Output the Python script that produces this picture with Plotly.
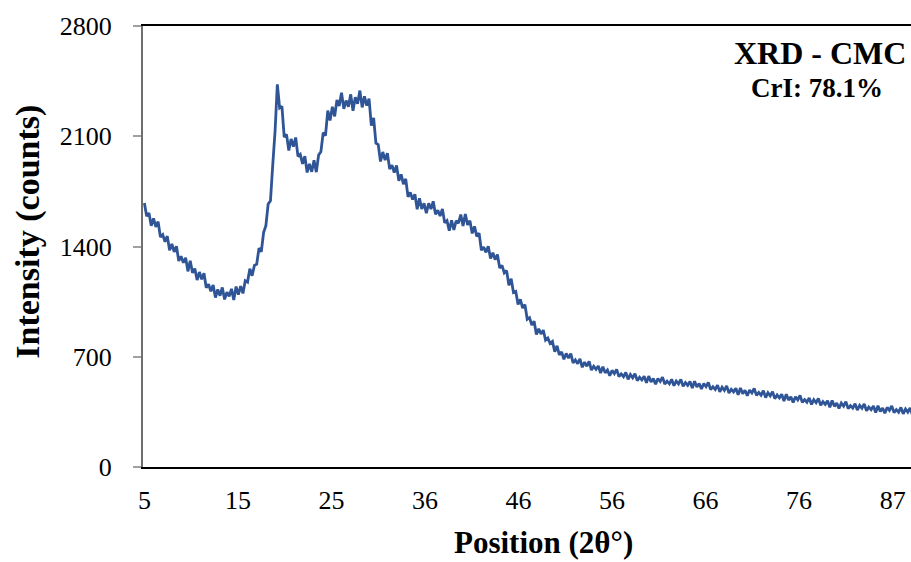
import numpy as np
import plotly.graph_objects as go

# Scan grid (2-theta, degrees): start and step of the diffractometer scan
scan_start = 5.0
scan_step = 0.25

# Intensity (counts), one value per scan step
intensity = [
    1676, 1592, 1612, 1531, 1578, 1525, 1558, 1460, 1475, 1430,
    1466, 1376, 1416, 1366, 1402, 1308, 1338, 1297, 1328, 1242,
    1310, 1233, 1260, 1187, 1238, 1192, 1230, 1138, 1160, 1116,
    1155, 1076, 1127, 1088, 1140, 1064, 1110, 1084, 1131, 1061,
    1146, 1095, 1148, 1102, 1183, 1174, 1259, 1214, 1280, 1288,
    1390, 1366, 1488, 1532, 1670, 1690, 1920, 2130, 2430, 2280,
    2290, 2095, 2112, 2010, 2083, 2034, 2092, 1972, 1985, 1925,
    1973, 1870, 1925, 1874, 1948, 1872, 1981, 2002, 2123, 2104,
    2263, 2200, 2287, 2226, 2330, 2292, 2377, 2274, 2327, 2288,
    2366, 2262, 2348, 2306, 2390, 2283, 2353, 2294, 2339, 2167,
    2216, 2056, 2047, 1940, 2000, 1949, 1993, 1892, 1916, 1870,
    1914, 1818, 1858, 1796, 1829, 1716, 1744, 1698, 1732, 1636,
    1706, 1638, 1674, 1611, 1674, 1638, 1687, 1604, 1630, 1594,
    1639, 1551, 1564, 1500, 1567, 1505, 1563, 1548, 1603, 1531,
    1606, 1537, 1564, 1483, 1528, 1464, 1485, 1376, 1396, 1363,
    1402, 1324, 1361, 1317, 1349, 1263, 1280, 1233, 1247, 1153,
    1195, 1108, 1114, 1032, 1064, 1009, 1031, 938, 948, 901,
    926, 842, 878, 845, 869, 806, 819, 784, 797, 732,
    770, 712, 731, 684, 721, 692, 720, 661, 680, 656,
    686, 633, 666, 640, 670, 615, 640, 620, 641, 597,
    637, 598, 616, 579, 613, 593, 620, 574, 591, 573,
    600, 557, 587, 566, 593, 548, 570, 553, 576, 534,
    577, 540, 561, 526, 562, 543, 571, 527, 545, 528,
    557, 516, 546, 528, 556, 512, 536, 519, 543, 501,
    545, 508, 530, 495, 530, 510, 537, 492, 510, 492,
    520, 477, 507, 487, 515, 470, 493, 477, 500, 459,
    502, 466, 487, 453, 489, 470, 499, 455, 473, 456,
    484, 441, 472, 452, 479, 434, 457, 439, 462, 419,
    462, 425, 445, 410, 446, 426, 454, 410, 428, 411,
    439, 397, 427, 408, 436, 392, 415, 398, 421, 379,
    422, 385, 406, 371, 406, 387, 415, 371, 390, 374,
    402, 361, 391, 373, 401, 357, 380, 364, 387, 346,
    389, 353, 375, 341, 378, 359, 388, 345, 364, 348,
    378, 338, 368, 348, 375, 330,
]

position_tick_values = [5, 15.2, 25.4, 35.6, 45.8, 56, 66.2, 76.4, 86.6]
position_tick_labels = ["5", "15", "25", "36", "46", "56", "66", "76", "87"]
intensity_tick_values = [0, 700, 1400, 2100, 2800]

two_theta = scan_start + scan_step * np.arange(len(intensity))

SERIF = "Liberation Serif, Times New Roman, serif"

fig = go.Figure()
fig.add_trace(go.Scatter(
    x=two_theta, y=intensity, mode="lines",
    line=dict(color="#2F5597", width=2.8),
    showlegend=False, hoverinfo="skip",
))

fig.update_layout(
    width=911, height=562,
    margin=dict(l=143, r=0, t=26, b=95),
    paper_bgcolor="white", plot_bgcolor="white",
    font=dict(family=SERIF, color="black"),
    xaxis=dict(
        range=[4.85, 88.6],
        tickmode="array", tickvals=position_tick_values, ticktext=position_tick_labels,
        tickfont=dict(family=SERIF, size=26, color="black"),
        showgrid=False, zeroline=False,
        showline=True, linecolor="black", linewidth=2, mirror=True,
        ticks="", ticklabelstandoff=9,
    ),
    yaxis=dict(
        range=[0, 2800],
        tickmode="array", tickvals=intensity_tick_values,
        tickfont=dict(family=SERIF, size=26, color="black"),
        showgrid=False, zeroline=False,
        showline=True, linecolor="#6f6f6f", linewidth=2,
        ticks="outside", ticklen=8, tickcolor="#a0a0a0", tickwidth=1.5,
        ticklabelstandoff=16,
    ),
    annotations=[
        dict(text="<b>Position (2θ°)</b>", xref="paper", yref="paper",
             x=0.522, y=-0.172, xanchor="center", yanchor="middle",
             showarrow=False, font=dict(family=SERIF, size=31, color="black")),
        dict(text="<b>Intensity (counts)</b>", xref="paper", yref="paper",
             x=-0.15, y=0.533, xanchor="center", yanchor="middle", textangle=-90,
             showarrow=False, font=dict(family=SERIF, size=34, color="black")),
        dict(text="<b>XRD - CMC</b>", xref="paper", yref="paper",
             x=0.882, y=0.939, xanchor="center", yanchor="middle",
             showarrow=False, font=dict(family=SERIF, size=32, color="black")),
        dict(text="<b>CrI: 78.1%</b>", xref="paper", yref="paper",
             x=0.877, y=0.859, xanchor="center", yanchor="middle",
             showarrow=False, font=dict(family=SERIF, size=27, color="black")),
    ],
)

fig.write_html(
    "out.html",
    config={"displayModeBar": False},
    post_script="document.body.style.margin='0';document.body.style.overflow='hidden';",
)
